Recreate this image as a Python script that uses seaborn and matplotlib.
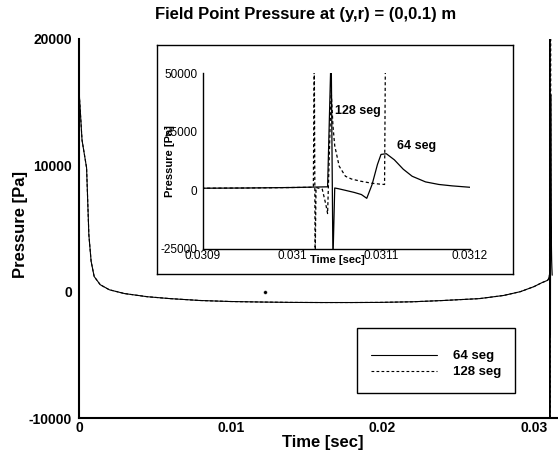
import numpy as np
import pandas as pd
import matplotlib
matplotlib.use('Agg')
import matplotlib.pyplot as plt
from matplotlib.lines import Line2D
from matplotlib.patches import Rectangle
from matplotlib.ticker import MultipleLocator
import seaborn as sns

# --- values ---
# long decay from t=0 to the start of the inset window (both meshes lie on top of each other)
time_common = [0.0, 0.0002, 0.0005, 0.00065, 0.0008, 0.001, 0.0014, 0.002, 0.003, 0.0036,
               0.0045, 0.006, 0.008, 0.010, 0.012, 0.014, 0.016, 0.018, 0.0198, 0.022,
               0.024, 0.0264, 0.028, 0.0291, 0.0300, 0.0305]
pressure_common = [16000, 12000, 9800, 4500, 2400, 1200, 550, 150, -150, -250,
                   -400, -550, -700, -780, -820, -850, -860, -860, -850, -800,
                   -700, -550, -300, 0, 400, 700]

# pulse arrival, 64 segments (solid)
time_64 = [0.0309, 0.03095, 0.0310, 0.031040, 0.031044, 0.031046, 0.031048, 0.031052,
           0.031060, 0.031070, 0.031078, 0.031084, 0.031090, 0.031096, 0.031100, 0.031106,
           0.031115, 0.031125, 0.031135, 0.031150, 0.031165, 0.031180, 0.0312]
pressure_64 = [900, 1000, 1200, 1500, 60000, -30000, 1000, 700,
               0, -900, -1800, -3400, 2500, 11000, 15300, 15600,
               13000, 9000, 6000, 3600, 2500, 1900, 1300]

# pulse arrival, 128 segments (dashed)
time_128 = [0.0309, 0.03095, 0.0310, 0.031024, 0.031025, 0.031026, 0.031027, 0.031034,
            0.031038, 0.031040, 0.031044, 0.031046, 0.031048, 0.031053, 0.031060,
            0.031067, 0.031077, 0.031090, 0.031100, 0.031104, 0.031105]
pressure_128 = [900, 1000, 1200, 1300, 60000, -30000, 1200, 500,
                -6000, -9900, 42700, 27600, 19000, 10300, 6000,
                4800, 3900, 3000, 2600, 2500, 60000]

stray_time = [0.01226]
stray_pressure = [0]

series_names = ['64 seg', '128 seg']
main_xticks = [0, 0.01, 0.02, 0.03]
main_yticks = [-10000, 0, 10000, 20000]
inset_xticks = [0.0309, 0.031, 0.0311, 0.0312]
inset_yticks = [-25000, 0, 25000, 50000]
title = 'Field Point Pressure at (y,r) = (0,0.1) m'

df = pd.concat([
    pd.DataFrame({'time': time_common + time_64, 'pressure': pressure_common + pressure_64,
                  'mesh': series_names[0]}),
    pd.DataFrame({'time': time_common + time_128, 'pressure': pressure_common + pressure_128,
                  'mesh': series_names[1]}),
])

sns.set_theme(style='white', rc={'text.color': 'black', 'axes.labelcolor': 'black',
                                 'xtick.color': 'black', 'ytick.color': 'black',
                                 'axes.edgecolor': 'black'})
plt.rcParams['font.family'] = ['Liberation Sans', 'DejaVu Sans']
plt.rcParams['axes.unicode_minus'] = False

styles = {series_names[0]: '-', series_names[1]: (0, (2.5, 2))}

fig = plt.figure(figsize=(5.58, 4.57), dpi=100)
W, H = 558, 457

# --- main axes ---
ax = fig.add_axes([79 / W, 1 - 418 / H, 479 / W, 379 / H])
for name in series_names:
    sns.lineplot(data=df[df['mesh'] == name], x='time', y='pressure', estimator=None,
                 sort=False, color='black', lw=0.8, linestyle=styles[name], ax=ax, legend=False)
sns.scatterplot(x=stray_time, y=stray_pressure, color='black', s=7, marker='o', ax=ax)

ax.set_xlim(0, 479 / 15167)
ax.set_ylim(-10000, 20000)
ax.spines['top'].set_visible(False)
ax.spines['right'].set_visible(False)
for s in ['left', 'bottom']:
    ax.spines[s].set_linewidth(1.5)
ax.set_xticks(main_xticks, labels=[f'{v:g}' for v in main_xticks], fontweight='bold')
ax.set_yticks(main_yticks, labels=[f'{v:g}' for v in main_yticks], fontweight='bold')
ax.xaxis.set_minor_locator(MultipleLocator(0.002))
ax.yaxis.set_minor_locator(MultipleLocator(2000))
ax.tick_params(which='major', direction='in', length=7, width=1.3, labelsize=10)
ax.tick_params(which='minor', direction='in', length=3.5, width=1.0)
ax.tick_params(axis='x', which='major', pad=2)
ax.tick_params(axis='y', which='major', pad=5)
ax.set_xlabel('Time [sec]', fontsize=12, fontweight='bold')
ax.set_ylabel('Pressure [Pa]', fontsize=12, fontweight='bold')
ax.xaxis.set_label_coords(0.509, -0.045)
ax.yaxis.set_label_coords(-0.106, 0.51)

handles = [Line2D([], [], color='black', lw=0.8, linestyle=styles[n]) for n in series_names]
ax.legend(handles, series_names, loc='center', bbox_to_anchor=(0.745, 0.142), frameon=False,
          handlelength=5, handletextpad=1.2, labelspacing=0.3, borderpad=0,
          prop={'weight': 'bold', 'size': 9.5})
ax.add_patch(Rectangle((0.580, 0.066), 0.33, 0.171, transform=ax.transAxes, fill=False,
                       lw=1, ec='black', clip_on=False))

fig.text(0.547, 0.969, title, ha='center', va='center', fontsize=12, fontweight='bold')

# --- inset frame ---
frame = fig.add_axes([157 / W, 1 - 274 / H, 356 / W, 229 / H])
frame.set_facecolor('white')
frame.set_xticks([])
frame.set_yticks([])
for s in frame.spines.values():
    s.set_linewidth(1)

# --- inset zoom on the pulse ---
axi = fig.add_axes([203 / W, 1 - 249 / H, 267 / W, 176 / H])
axi.patch.set_alpha(0)
for name in series_names:
    sns.lineplot(data=df[df['mesh'] == name], x='time', y='pressure', estimator=None,
                 sort=False, color='black', lw=0.9, linestyle=styles[name], ax=axi, legend=False)
axi.set_xlim(0.0309, 0.0312)
axi.set_ylim(-25000, 50000)
axi.spines['top'].set_visible(False)
axi.spines['right'].set_visible(False)
for s in ['left', 'bottom']:
    axi.spines[s].set_linewidth(1)
axi.set_xticks(inset_xticks, labels=[f'{v:g}' for v in inset_xticks], fontweight='normal')
axi.set_yticks(inset_yticks, labels=[f'{v:g}' for v in inset_yticks], fontweight='normal')
axi.xaxis.set_minor_locator(MultipleLocator(0.00002))
axi.tick_params(which='major', direction='in', length=4, width=1, labelsize=8.5)
axi.tick_params(which='minor', direction='in', length=2, width=0.8)
axi.tick_params(axis='x', which='major', pad=1)
axi.tick_params(axis='y', which='major', pad=4)
axi.set_xlabel('Time [sec]', fontsize=8, fontweight='bold')
axi.set_ylabel('Pressure [Pa]', fontsize=8, fontweight='bold')
axi.xaxis.set_label_coords(0.502, -0.035)
axi.yaxis.set_label_coords(-0.105, 0.5)
axi.text(0.0310483, 34000, '128 seg', fontsize=9, fontweight='bold', va='center')
axi.text(0.031118, 19000, '64 seg', fontsize=9, fontweight='bold', va='center')

fig.savefig('out.png', dpi=100)
